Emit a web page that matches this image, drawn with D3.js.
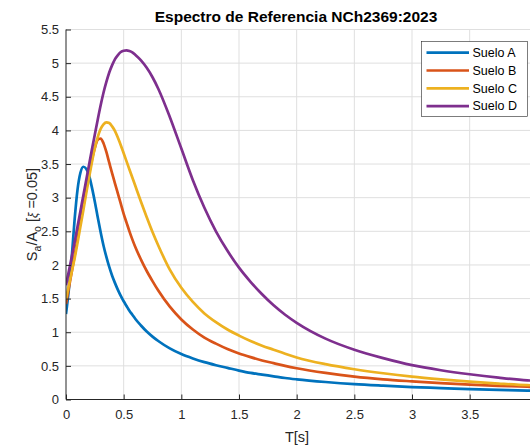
<!DOCTYPE html>
<html><head><meta charset="utf-8">
<script src="https://cdn.jsdelivr.net/npm/d3@7"></script>
<style>body{margin:0;background:#fff}svg{display:block;font-family:"Liberation Sans",Arial,sans-serif}</style>
</head><body><svg id="c" width="530" height="445"></svg>
<script>
const periods = [0,0.025,0.05,0.075,0.1,0.125,0.15,0.175,0.2,0.225,0.25,0.275,0.3,0.325,0.35,0.375,0.4,0.425,0.45,0.475,0.5,0.525,0.55,0.575,0.6,0.65,0.7,0.75,0.8,0.9,1.0,1.1,1.2,1.3,1.4,1.5,1.6,1.7,1.8,1.9,2.0,2.25,2.5,2.75,3.0,3.25,3.5,3.75,4.0,4.03];
const sueloA = [1.27,1.64,2.12,2.68,3.12,3.37,3.46,3.43,3.33,3.15,2.94,2.71,2.49,2.29,2.12,1.97,1.84,1.73,1.63,1.54,1.46,1.39,1.32,1.26,1.20,1.10,1.01,0.935,0.87,0.76,0.675,0.61,0.555,0.51,0.47,0.43,0.395,0.37,0.345,0.32,0.30,0.26,0.228,0.205,0.185,0.17,0.155,0.143,0.132,0.131];
const sueloB = [1.42,1.66,1.90,2.14,2.39,2.63,2.87,3.12,3.36,3.57,3.74,3.86,3.88,3.81,3.68,3.52,3.36,3.21,3.06,2.91,2.76,2.63,2.50,2.38,2.27,2.08,1.91,1.76,1.62,1.38,1.19,1.04,0.92,0.83,0.75,0.685,0.63,0.58,0.54,0.50,0.465,0.395,0.34,0.30,0.27,0.243,0.22,0.203,0.19,0.188];
const sueloC = [1.49,1.70,1.90,2.10,2.33,2.57,2.81,3.06,3.30,3.53,3.74,3.90,4.02,4.09,4.12,4.11,4.06,3.99,3.89,3.78,3.66,3.54,3.42,3.30,3.18,2.94,2.71,2.49,2.29,1.93,1.66,1.45,1.28,1.15,1.04,0.95,0.87,0.80,0.74,0.68,0.625,0.525,0.45,0.39,0.34,0.30,0.265,0.237,0.213,0.211];
const sueloD = [1.70,1.91,2.12,2.34,2.57,2.80,3.03,3.26,3.49,3.72,3.94,4.16,4.37,4.56,4.72,4.86,4.97,5.06,5.12,5.165,5.185,5.19,5.18,5.16,5.125,5.04,4.93,4.79,4.62,4.20,3.73,3.26,2.85,2.50,2.21,1.96,1.75,1.565,1.40,1.26,1.14,0.905,0.74,0.615,0.51,0.435,0.375,0.325,0.285,0.282];
const seriesNames = ["Suelo A","Suelo B","Suelo C","Suelo D"];
const xTicks = [0,0.5,1,1.5,2,2.5,3,3.5];
const yTicks = [0,0.5,1,1.5,2,2.5,3,3.5,4,4.5,5,5.5];
const colors = ["#0072BD","#D95319","#EDB120","#7E2F8E"];

const svg = d3.select("#c");
const L = 66, R = 530, T = 29.5, B = 399.5;
const x = d3.scaleLinear().domain([0, 4.023]).range([L, R]);
const y = d3.scaleLinear().domain([0, 5.5]).range([B, T]);
const axisCol = "#262626";

// grid
const g = svg.append("g");
g.selectAll("line.gx").data(xTicks.slice(1)).join("line")
  .attr("x1", d => x(d)).attr("x2", d => x(d)).attr("y1", T).attr("y2", B)
  .attr("stroke", "#dfdfdf").attr("stroke-width", 1);
g.selectAll("line.gy").data(yTicks.slice(1)).join("line")
  .attr("x1", L).attr("x2", R).attr("y1", d => y(d)).attr("y2", d => y(d))
  .attr("stroke", "#dfdfdf").attr("stroke-width", 1);

// lines
const all = [sueloA, sueloB, sueloC, sueloD];
const line = d3.line().x((d,i) => x(periods[i])).y(d => y(d)).curve(d3.curveMonotoneX);
svg.append("defs").append("clipPath").attr("id","clip").append("rect")
  .attr("x", L).attr("y", T-5).attr("width", R-L).attr("height", B-T+5);
const lg = svg.append("g").attr("clip-path","url(#clip)");
all.forEach((s, k) => {
  lg.append("path").attr("d", line(s)).attr("fill","none")
    .attr("stroke", colors[k]).attr("stroke-width", 2.7).attr("stroke-linejoin","round");
});

// axes
const xa = svg.append("g").attr("transform", `translate(0,${B})`)
  .call(d3.axisBottom(x).tickValues(xTicks).tickSize(-5).tickPadding(10).tickFormat(d3.format("~g")));
const ya = svg.append("g").attr("transform", `translate(${L},0)`)
  .call(d3.axisLeft(y).tickValues(yTicks).tickSize(-5).tickPadding(7).tickFormat(d3.format("~g")));
[xa, ya].forEach(a => {
  a.select(".domain").attr("stroke", axisCol).attr("stroke-width", 1);
  a.selectAll(".tick line").attr("stroke", axisCol);
  a.selectAll(".tick text").attr("fill", axisCol).attr("font-size", 13)
    .attr("font-family", '"Liberation Sans",Arial,sans-serif');
});
ya.select(".domain").attr("d", `M0,${B}V${T}`);
xa.select(".domain").attr("d", `M${L},0H${R}`);

// title
svg.append("text").attr("x", 296).attr("y", 22).attr("text-anchor","middle")
  .attr("font-size", 15.5).attr("font-weight","bold").attr("fill","#000")
  .text("Espectro de Referencia NCh2369:2023");
// x label
svg.append("text").attr("x", 297).attr("y", 442).attr("text-anchor","middle")
  .attr("font-size", 14.5).attr("fill", axisCol).text("T[s]");
// y label
const yl = svg.append("text").attr("transform", `translate(37,${(T+B)/2}) rotate(-90)`)
  .attr("text-anchor","middle").attr("font-size", 14.5).attr("fill", axisCol);
yl.append("tspan").text("S");
yl.append("tspan").attr("dy", 4).attr("font-size", 10.5).text("a");
yl.append("tspan").attr("dy", -4).text("/A");
yl.append("tspan").attr("dy", 4).attr("font-size", 10.5).text("o");
yl.append("tspan").attr("dy", -4).text(" [");
yl.append("tspan").attr("font-style","italic").attr("font-size", 12).text("ξ");
yl.append("tspan").text(" =0.05]");

// legend
const leg = svg.append("g");
leg.append("rect").attr("x", 421.5).attr("y", 41.5).attr("width", 106).attr("height", 75)
  .attr("fill", "#fff").attr("stroke", "#262626").attr("stroke-width", 0.6);
seriesNames.forEach((n, k) => {
  const yy = 52.7 + k * 17.8;
  leg.append("line").attr("x1", 426.5).attr("x2", 469).attr("y1", yy).attr("y2", yy)
    .attr("stroke", colors[k]).attr("stroke-width", 2.7);
  leg.append("text").attr("x", 472.5).attr("y", yy + 4.3).attr("font-size", 12.5)
    .attr("fill", "#000").text(n);
});
</script></body></html>
